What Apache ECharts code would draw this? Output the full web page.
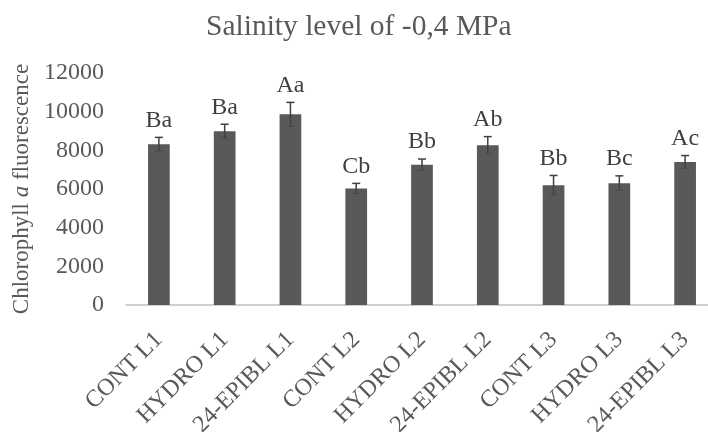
<!DOCTYPE html>
<html>
<head>
<meta charset="utf-8">
<script src="https://cdn.jsdelivr.net/npm/echarts@6/dist/echarts.min.js"></script>
<style>
html,body{margin:0;padding:0;background:#fff;}
#chart{width:708px;height:432px;}
</style>
</head>
<body>
<div id="chart"></div>
<script>
var categories = ['CONT L1','HYDRO L1','24-EPIBL L1','CONT L2','HYDRO L2','24-EPIBL L2','CONT L3','HYDRO L3','24-EPIBL L3'];
var means = [8320, 8990, 9860, 6030, 7260, 8260, 6200, 6300, 7400];
var errors = [350, 360, 620, 260, 290, 450, 500, 380, 330];
var letters = ['Ba','Ba','Aa','Cb','Bb','Ab','Bb','Bc','Ac'];
var yTicks = [0, 2000, 4000, 6000, 8000, 10000, 12000];

var FONT = '"Liberation Serif", "Times New Roman", serif';
var errData = means.map(function(m, i){ return [i, m, errors[i], letters[i]]; });

var chart = echarts.init(document.getElementById('chart'));
chart.setOption({
  animation: false,
  title: {
    text: 'Salinity level of -0,4 MPa',
    left: 206,
    top: 12,
    padding: 0,
    textStyle: {fontFamily: FONT, fontSize: 29.5, fontWeight: 'normal', color: '#595959'}
  },
  grid: {left: 126, right: -10, top: 73, bottom: 127, containLabel: false, outerBoundsMode: 'none'},
  xAxis: {
    type: 'category',
    data: categories,
    axisTick: {show: false},
    axisLine: {lineStyle: {color: '#bfbfbf', width: 1.5}},
    axisLabel: {
      interval: 0, rotate: 45, margin: 31,
      fontFamily: FONT, fontSize: 24, color: '#595959'
    }
  },
  yAxis: {
    type: 'value',
    min: yTicks[0], max: yTicks[yTicks.length - 1], interval: 2000,
    splitLine: {show: false},
    axisLine: {show: false},
    axisTick: {show: false},
    axisLabel: {
      margin: 22, fontFamily: FONT, fontSize: 24, color: '#595959',
      formatter: function(v){ return String(v); }
    },
    name: '{n|Chlorophyll }{i|a}{n| fluorescence}',
    nameLocation: 'middle',
    nameGap: 84,
    nameRotate: 90,
    nameTextStyle: {
      rich: {
        n: {fontFamily: FONT, fontSize: 23, color: '#595959'},
        i: {fontFamily: FONT, fontSize: 23, fontStyle: 'italic', color: '#595959'}
      }
    }
  },
  series: [
    {
      type: 'bar',
      data: means,
      barWidth: '33%',
      itemStyle: {color: '#595959'}
    },
    {
      type: 'custom',
      data: errData,
      z: 5,
      renderItem: function(params, api){
        var x = api.value(0);
        var m = api.value(1), e = api.value(2);
        var top = api.coord([x, m + e]);
        var bot = api.coord([x, m - e]);
        var cap = 4;
        var style = {stroke: '#404040', lineWidth: 1.5};
        return {
          type: 'group',
          children: [
            {type: 'line', shape: {x1: top[0], y1: top[1], x2: bot[0], y2: bot[1]}, style: style},
            {type: 'line', shape: {x1: top[0]-cap, y1: top[1], x2: top[0]+cap, y2: top[1]}, style: style},
            {type: 'line', shape: {x1: bot[0]-cap, y1: bot[1], x2: bot[0]+cap, y2: bot[1]}, style: {stroke: '#4a4a4a', lineWidth: 1}},
            {type: 'text', x: top[0], y: top[1] - 5, style: {
              text: api.value(3), fontFamily: FONT, fontSize: 24, fill: '#404040',
              align: 'center', verticalAlign: 'bottom'
            }}
          ]
        };
      }
    }
  ]
});
</script>
</body>
</html>
